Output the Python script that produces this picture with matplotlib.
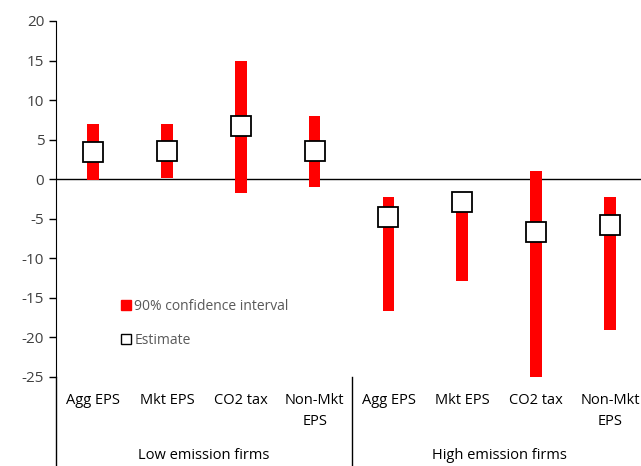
import numpy as np
import matplotlib.pyplot as plt
from matplotlib.lines import Line2D
from matplotlib.transforms import blended_transform_factory

categories = ['Agg EPS', 'Mkt EPS', 'CO2 tax', 'Non-Mkt\nEPS',
              'Agg EPS', 'Mkt EPS', 'CO2 tax', 'Non-Mkt\nEPS']
groups = ['Low emission firms', 'High emission firms']
estimate = [3.4, 3.6, 6.7, 3.6, -4.8, -2.9, -6.7, -5.8]
ci_low = [-0.1, 0.1, -1.7, -1.0, -16.7, -12.9, -25.1, -19.1]
ci_high = [7.0, 7.0, 15.0, 8.0, -2.3, -2.5, 1.1, -2.2]

plt.rcParams['font.family'] = ['Open Sans', 'DejaVu Sans']
plt.rcParams['axes.unicode_minus'] = False
grey = '#404040'

fig = plt.figure(figsize=(6.41, 4.66), dpi=100)
ax = fig.add_axes([56 / 641, 89 / 466, 591 / 641, 356 / 466])

x = np.arange(len(categories))
lo = np.array(ci_low)
hi = np.array(ci_high)
ax.bar(x, hi - lo, bottom=lo, width=0.16, color='#ff0000', zorder=2)
ax.plot(x, estimate, ls='none', marker='s', ms=14.5, mfc='white',
        mec='black', mew=1.3, zorder=3)
ax.axhline(0, color='black', lw=1, zorder=1)

ax.set_xlim(-0.5, len(categories) - 0.5)
ax.set_ylim(-25, 20)
ax.set_yticks(np.arange(-25, 21, 5))
ax.tick_params(axis='y', labelcolor=grey, labelsize=11, length=5, width=1,
               color='black')
ax.set_xticks([])
for s in ['top', 'right', 'bottom']:
    ax.spines[s].set_visible(False)

# category and group labels below the plot
tr = blended_transform_factory(ax.transData, ax.transAxes)
for xi, lab in zip(x, categories):
    ax.text(xi, -0.045, lab, transform=tr, ha='center', va='top',
            fontsize=10.5, color='black', linespacing=1.55)
for gi, g in enumerate(groups):
    ax.text(1.5 + 4 * gi, -0.2, g, transform=tr, ha='center', va='top',
            fontsize=10.5, color='black')
ax.plot([-0.5, -0.5], [0, -0.3], transform=tr, color='black', lw=1,
        clip_on=False)
ax.plot([3.5, 3.5], [0, -0.3], transform=tr, color='black', lw=1,
        clip_on=False)

handles = [
    Line2D([], [], ls='none', marker='s', ms=7, mfc='#ff0000', mec='#ff0000'),
    Line2D([], [], ls='none', marker='s', ms=7, mfc='white', mec='black',
           mew=1),
]
leg = ax.legend(handles, ['90% confidence interval', 'Estimate'],
                loc='upper left', bbox_to_anchor=(0.09, 0.255), frameon=False,
                handlelength=0.6, handletextpad=0.3, labelspacing=1.4,
                fontsize=10)
for t in leg.get_texts():
    t.set_color('#595959')

fig.savefig('out.png', dpi=100)
